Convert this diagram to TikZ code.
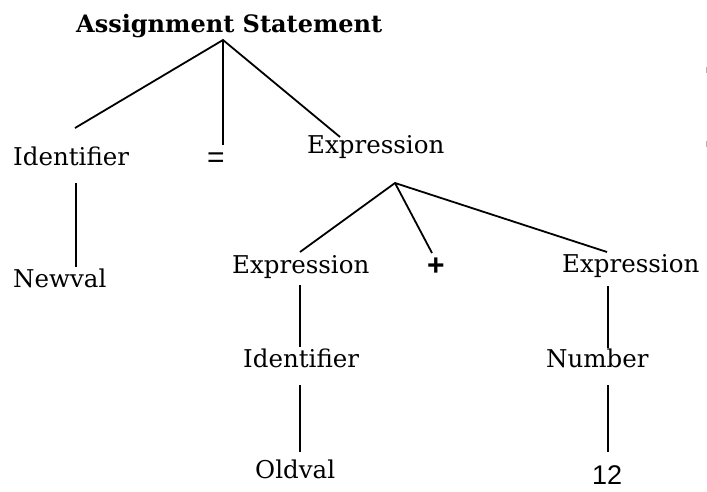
\documentclass[tikz,border=0pt]{standalone}
\usepackage{fontspec}
\setmainfont{DejaVu Serif}
\newfontfamily\sansf{Liberation Sans}
\begin{document}
\begin{tikzpicture}[x=1pt,y=-1pt,
  lbl/.style={inner sep=0pt, anchor=base west, font=\fontsize{24.5}{28}\selectfont},
  ttl/.style={inner sep=0pt, anchor=base west, font=\fontsize{24}{28}\selectfont\bfseries},
  sym/.style={inner sep=0pt, anchor=base west, font=\fontsize{30}{34}\sansf},
  num/.style={inner sep=0pt, anchor=base west, text depth=0pt, font=\fontsize{27}{31}\sansf},
  edge/.style={line width=1.8pt, line cap=butt}]
\useasboundingbox (0,0) rectangle (707,491);
% nodes
\node[ttl] (as) at (76,32) {Assignment Statement};
\node[lbl] (id1) at (13,165) {Identifier};
\node[sym] (eq) at (207,167) {=};
\node[lbl] (ex1) at (307,153) {Expression};
\node[lbl] (nv) at (13,287) {Newval};
\node[lbl] (ex2) at (232,273) {Expression};
\node[sym, font=\fontsize{30}{34}\sansf\bfseries] (plus) at (427,275) {+};
\node[lbl] (ex3) at (562,272) {Expression};
\node[lbl] (id2) at (243,367) {Identifier};
\node[lbl] (nm) at (546,367) {Number};
\node[lbl] (old) at (255,478) {Oldval};
\node[num] (tw) at (592,484) {12};
% connector end points
\coordinate (as-j) at (223,40);
\coordinate (id1-t) at (75,128);
\coordinate (eq-t) at (223,145);
\coordinate (ex1-t) at (340,137);
\coordinate (id1-b) at (76,183);
\coordinate (nv-t) at (76,267);
\coordinate (ex1-j) at (395,183);
\coordinate (ex2-t) at (300,252);
\coordinate (plus-t) at (432,253);
\coordinate (ex3-t) at (607,252);
\coordinate (ex2-b) at (300,285);
\coordinate (id2-t) at (300,347);
\coordinate (id2-b) at (300,385);
\coordinate (old-t) at (300,452);
\coordinate (ex3-b) at (608,286);
\coordinate (nm-t) at (608,348);
\coordinate (nm-b) at (608,385);
\coordinate (tw-t) at (608,452);
% connectors
\draw[edge] (id1-t) -- (as-j) -- (ex1-t);
\draw[edge] (as-j) -- (eq-t);
\draw[edge] (id1-b) -- (nv-t);
\draw[edge] (ex2-t) -- (ex1-j) -- (ex3-t);
\draw[edge] (ex1-j) -- (plus-t);
\draw[edge] (ex2-b) -- (id2-t);
\draw[edge] (id2-b) -- (old-t);
\draw[edge] (ex3-b) -- (nm-t);
\draw[edge] (nm-b) -- (tw-t);
% small marks at right edge
\fill[gray!60] (705.5,67) rectangle (707,73);
\fill[gray!60] (705.5,141) rectangle (707,147);
\end{tikzpicture}
\end{document}
